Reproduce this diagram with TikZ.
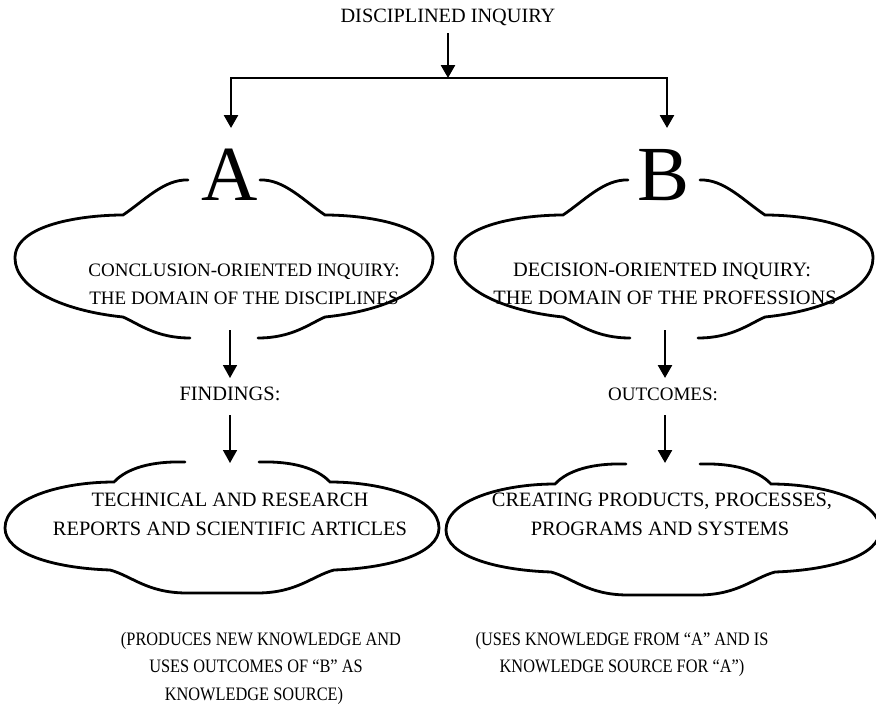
\documentclass[tikz,border=0pt]{standalone}
\usepackage{fontspec}
\setmainfont{Liberation Serif}
\newfontfamily\narrowserif{Liberation Serif}[FakeStretch=0.86]
\usetikzlibrary{arrows.meta}

\tikzset{
  outline/.style={line width=2.8pt, line cap=round, line join=miter},
  arr/.style={line width=2.6pt, -{Triangle[width=14pt,length=13pt]}, line join=miter},
  thinarr/.style={line width=1.7pt, -{Triangle[width=14pt,length=13pt]}},
  title/.style={anchor=base, inner sep=0pt, font=\fontsize{20.3}{24}\selectfont},
  txt/.style={anchor=base, inner sep=0pt, font=\fontsize{19}{23}\selectfont},
  bigtxt/.style={anchor=base, inner sep=0pt, font=\fontsize{20.4}{24}\selectfont},
  note/.style={anchor=base, inner sep=0pt, font=\narrowserif\fontsize{19}{23}\selectfont},
  letter/.style={anchor=base, inner sep=0pt, font=\fontsize{78}{80}\selectfont},
  % upper cloud: open at the top (for the letter) and at the bottom (for the arrow)
  upcloud/.pic={
    \draw[outline] (-36,-79) .. controls (-60,-80) and (-80,-58) .. (-101,-44)
      .. controls (-140,-44) and (-209,-35) .. (-209,-1)
      .. controls (-209,30) and (-160,52) .. (-101,58)
      .. controls (-85,65) and (-68,79) .. (-34,79);
    \draw[outline] (36,-79) .. controls (60,-80) and (80,-58) .. (101,-44)
      .. controls (140,-44) and (209,-35) .. (209,-1)
      .. controls (209,30) and (160,52) .. (101,58)
      .. controls (85,65) and (68,79) .. (34,79);
  },
  % lower cloud: open at the top only
  lowcloud/.pic={
    \draw[outline] (-37,-56) .. controls (-70,-57) and (-95,-50) .. (-108,-36)
      .. controls (-160,-36) and (-217,-20) .. (-217,10)
      .. controls (-217,35) and (-170,50) .. (-112,52)
      .. controls (-90,58) and (-75,75) .. (-35,75)
      -- (35,75)
      .. controls (75,75) and (90,58) .. (112,52)
      .. controls (170,50) and (217,35) .. (217,10)
      .. controls (217,-20) and (160,-36) .. (108,-36)
      .. controls (95,-50) and (70,-57) .. (37,-56);
  }
}

\begin{document}
\begin{tikzpicture}[x=1pt,y=-1pt]
\useasboundingbox (0,0) rectangle (876,704);

% heading and the split into two branches
\node[title] (root) at (448,22) {DISCIPLINED INQUIRY};
\coordinate (rootfoot) at (448,33);
\coordinate (split) at (448,78);
\coordinate (tipA) at (231,128);
\coordinate (tipB) at (667,128);
\draw[arr] (rootfoot) -- (split);
\draw[arr] (split) -| (tipA);
\draw[arr] (split) -| (tipB);

% branch A
\pic at (224,259) {upcloud};
\node[letter] (A) at (230,200) {A};
\node[txt] (a1) at (244,276) {CONCLUSION-ORIENTED INQUIRY:};
\node[txt] (a2) at (244,304) {THE DOMAIN OF THE DISCIPLINES};
\node[bigtxt] (find) at (230,400) {FINDINGS:};
\coordinate (a3) at (230,330);
\coordinate (a4) at (230,378);
\coordinate (a5) at (230,415);
\coordinate (a6) at (230,463);
\draw[thinarr] (a3) -- (a4);
\draw[thinarr] (a5) -- (a6);
\pic at (222,518) {lowcloud};
\node[bigtxt] (a7) at (230,506) {TECHNICAL AND RESEARCH};
\node[bigtxt] (a8) at (230,535) {REPORTS AND SCIENTIFIC ARTICLES};
\node[note] (a9) at (261,645) {(PRODUCES NEW KNOWLEDGE AND};
\node[note] (a10) at (256,672) {USES OUTCOMES OF “B” AS};
\node[note] (a11) at (254,700) {KNOWLEDGE SOURCE)};

% branch B
\pic at (664,259) {upcloud};
\node[letter] (B) at (664,200) {B};
\node[bigtxt] (b1) at (662,276) {DECISION-ORIENTED INQUIRY:};
\node[bigtxt] (b2) at (665,304) {THE DOMAIN OF THE PROFESSIONS};
\node[txt] (outc) at (663,400) {OUTCOMES:};
\coordinate (b3) at (665,330);
\coordinate (b4) at (665,378);
\coordinate (b5) at (665,415);
\coordinate (b6) at (665,463);
\draw[arr] (b3) -- (b4);
\draw[arr] (b5) -- (b6);
\pic at (663,520) {lowcloud};
\node[bigtxt] (b7) at (662,506) {CREATING PRODUCTS, PROCESSES,};
\node[bigtxt] (b8) at (660,535) {PROGRAMS AND SYSTEMS};
\node[note] (b9) at (622,645) {(USES KNOWLEDGE FROM “A” AND IS};
\node[note] (b10) at (622,672) {KNOWLEDGE SOURCE FOR “A”)};
\end{tikzpicture}
\end{document}
